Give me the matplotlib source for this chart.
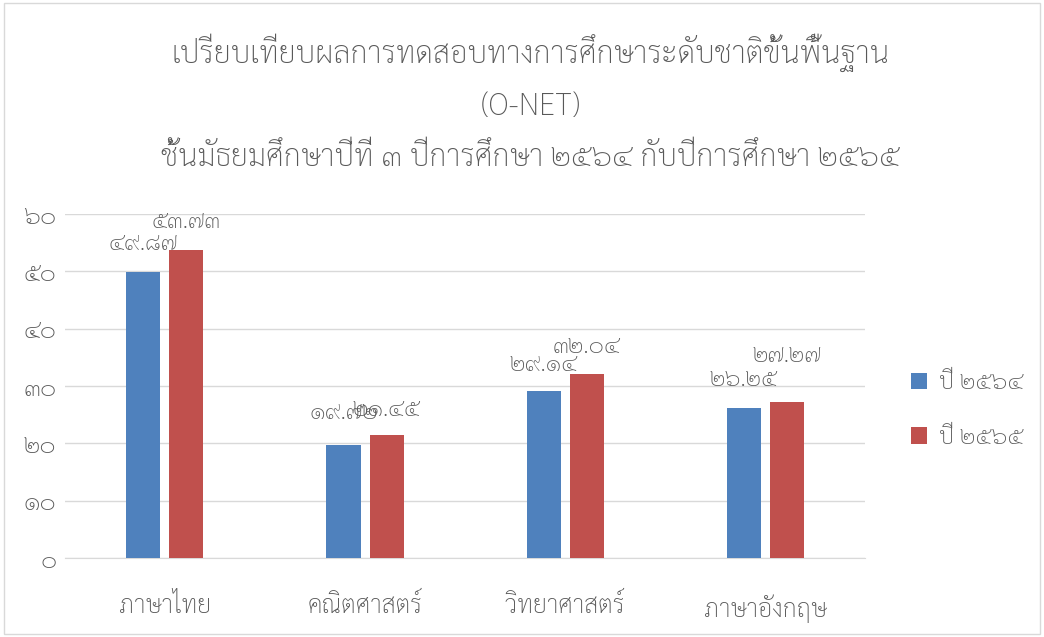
import matplotlib
matplotlib.use("Agg")
import matplotlib.pyplot as plt
import numpy as np
from matplotlib.patches import Rectangle

plt.rcParams["font.family"] = ["Sarabun", "DejaVu Sans"]
plt.rcParams["font.weight"] = "light"

subjects = ["ภาษาไทย", "คณิตศาสตร์", "วิทยาศาสตร์", "ภาษาอังกฤษ"]
series_names = ["ปี ๒๕๖๔", "ปี ๒๕๖๕"]
scores_2564 = [49.87, 19.72, 29.14, 26.25]
scores_2565 = [53.73, 21.45, 32.04, 27.27]
y_ticks = [0, 10, 20, 30, 40, 50, 60]

title = ("เปรียบเทียบผลการทดสอบทางการศึกษาระดับชาติขั้นพื้นฐาน\n(O-NET)\n"
         "ชั้นมัธยมศึกษาปีที่ ๓ ปีการศึกษา ๒๕๖๔ กับปีการศึกษา ๒๕๖๕")

# label lift above each bar (points), as the labels sit in the original
label_lift = [[12, 15, 11, 12], [12, 10, 12, 25]]

THAI_DIGITS = str.maketrans("0123456789", "๐๑๒๓๔๕๖๗๘๙")


def thai_num(v, fmt="{:.2f}"):
    return fmt.format(v).translate(THAI_DIGITS)


text_color = "#595959"
colors = ["#4F81BD", "#C0504D"]

fig = plt.figure(figsize=(10.44, 6.37), dpi=100)
ax = fig.add_axes([0.062, 0.124, 0.767, 0.54])

x = np.arange(len(subjects))
width = 0.17
offsets = [-0.1075, 0.1075]
series = [scores_2564, scores_2565]
for i, (vals, off, col, name) in enumerate(zip(series, offsets, colors, series_names)):
    bars = ax.bar(x + off, vals, width, color=col, label=name, zorder=3)
    for b, v, lift in zip(bars, vals, label_lift[i]):
        ax.annotate(thai_num(v), (b.get_x() + b.get_width() / 2, v),
                    xytext=(0, lift), textcoords="offset points",
                    ha="center", va="bottom", fontsize=17, color=text_color)

ax.set_xlim(-0.5, len(subjects) - 0.5)
ax.set_ylim(0, 60)
ax.set_yticks(y_ticks)
ax.set_yticklabels([thai_num(t, "{:d}") for t in y_ticks])
ax.set_xticks(x)
ax.set_xticklabels(subjects)
ax.tick_params(axis="both", length=0, labelsize=18, colors=text_color)
ax.tick_params(axis="y", pad=6)
ax.tick_params(axis="x", pad=26)
ax.grid(axis="y", color="#D9D9D9", linewidth=1, zorder=0)
for s in ["top", "right", "left"]:
    ax.spines[s].set_visible(False)
ax.spines["bottom"].set_color("#D9D9D9")

fig.text(0.508, 0.948, title, ha="center", va="top", fontsize=22,
         color=text_color, linespacing=1.85)

leg = ax.legend(loc="center left", bbox_to_anchor=(1.03, 0.43), frameon=False,
                fontsize=17, labelcolor=text_color, handlelength=0.7,
                handleheight=0.7, labelspacing=1.35, handletextpad=0.5)

fig.patches.append(Rectangle((0.004, 0.004), 0.992, 0.992, transform=fig.transFigure,
                             fill=False, edgecolor="#D9D9D9", linewidth=1))

fig.savefig("out.png", dpi=100)
